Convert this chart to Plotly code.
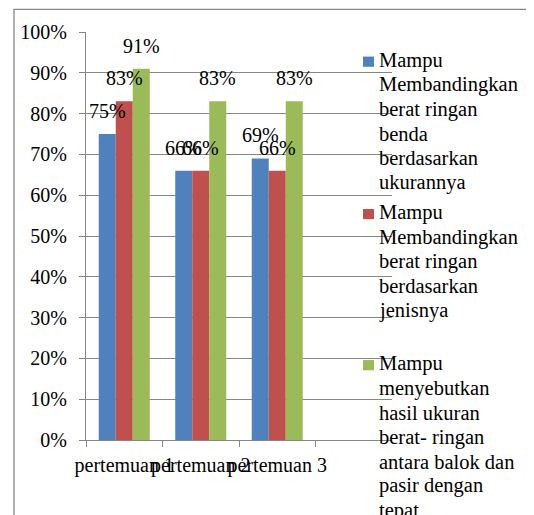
import plotly.graph_objects as go

categories = ["pertemuan 1", "pertemuan 2", "pertemuan 3"]
series_lines = [
    ["Mampu", "Membandingkan", "berat ringan", "benda", "berdasarkan", "ukurannya"],
    ["Mampu", "Membandingkan", "berat ringan", "berdasarkan", "jenisnya"],
    ["Mampu", "menyebutkan", "hasil ukuran", "berat- ringan", "antara balok dan", "pasir dengan", "tepat"],
]
blue_vals = [0.75, 0.66, 0.69]
red_vals = [0.83, 0.66, 0.66]
green_vals = [0.91, 0.83, 0.83]
y_tick_vals = [0, 0.1, 0.2, 0.3, 0.4, 0.5, 0.6, 0.7, 0.8, 0.9, 1.0]
y_tick_text = ["0%", "10%", "20%", "30%", "40%", "50%", "60%", "70%", "80%", "90%", "100%"]

colors = ["#4F81BD", "#C0504D", "#9BBB59"]
all_vals = [blue_vals, red_vals, green_vals]

# page body has an 8px margin, so the figure is 8px smaller than the window
W, H = 526, 507
L, R, T, B = 78, 142, 23.7, 75
FONT = "Liberation Serif, Times New Roman, serif"
GRID = "#868686"
plot_w = W - L - R
plot_h = H - T - B


def px_x(x):
    return (x - L) / plot_w


def px_y(y):
    return 1 - (y - T) / plot_h


fig = go.Figure()
for lines, vals, col in zip(series_lines, all_vals, colors):
    fig.add_trace(go.Bar(
        x=categories, y=vals, name=" ".join(lines),
        marker=dict(color=col, line=dict(width=0)), showlegend=False,
    ))

# data labels above bars
cat_px = plot_w / 4
bar_px = cat_px * (1 - 0.333) / 3
for i, vals in enumerate(all_vals):
    for c, v in zip(categories, vals):
        fig.add_annotation(
            x=c, y=v, text=f"{round(v*100)}%", showarrow=False,
            xshift=(i - 1) * bar_px, yshift=23, yanchor="middle",
            font=dict(family=FONT, size=20, color="black"),
        )

# legend (wrapped like the original, drawn over the gridlines)
LEG_FONT = 20.5
LEG_STEP = 24.45
LEG_TEXT_X = 370
LEG_MARK_X0, LEG_MARK_X1 = 355, 366
item_first_baseline = [59, 211.5, 362.7]
for lines, col, base0 in zip(series_lines, colors, item_first_baseline):
    fig.add_shape(
        type="rect", xref="paper", yref="paper",
        x0=px_x(LEG_MARK_X0), x1=px_x(LEG_MARK_X1),
        y0=px_y(base0 - 0.5), y1=px_y(base0 - 10.7),
        fillcolor=col, line=dict(width=0), layer="above",
    )
    for j, line in enumerate(lines):
        base = base0 + j * LEG_STEP
        fig.add_annotation(
            xref="paper", yref="paper", x=px_x(LEG_TEXT_X), y=px_y(base - 0.3375 * LEG_FONT),
            text=line, showarrow=False, xanchor="left", yanchor="middle",
            borderpad=0, font=dict(family=FONT, size=LEG_FONT, color="black"),
        )

# outer chart border
fig.add_shape(
    type="rect", xref="paper", yref="paper",
    x0=px_x(6), x1=px_x(W + 5),
    y0=px_y(H + 5), y1=px_y(1),
    line=dict(color=GRID, width=1.3), fillcolor="rgba(0,0,0,0)", layer="below",
)

fig.update_layout(
    width=W, height=H,
    margin=dict(l=L, r=R, t=T, b=B, autoexpand=False),
    paper_bgcolor="white", plot_bgcolor="white",
    barmode="group", bargap=0.333, bargroupgap=0,
    font=dict(family=FONT, size=20, color="black"),
    showlegend=False,
    xaxis=dict(
        type="category", range=[-0.5, 3.5], tickangle=0,
        showline=True, linecolor=GRID, linewidth=1.3,
        ticks="outside", tickson="boundaries", ticklen=6, tickcolor=GRID, tickwidth=1.3,
        showgrid=False, automargin=False, ticklabelstandoff=7,
        tickfont=dict(family=FONT, size=20, color="black"),
    ),
    yaxis=dict(
        range=[0, 1], tickvals=y_tick_vals, ticktext=y_tick_text,
        showline=True, linecolor=GRID, linewidth=1.3,
        ticks="outside", ticklen=6, tickcolor=GRID, tickwidth=1.3,
        showgrid=True, gridcolor=GRID, gridwidth=1.3, zeroline=False,
        automargin=False, ticklabelstandoff=8,
        tickfont=dict(family=FONT, size=20, color="black"),
    ),
)

fig.write_html("out.html")
